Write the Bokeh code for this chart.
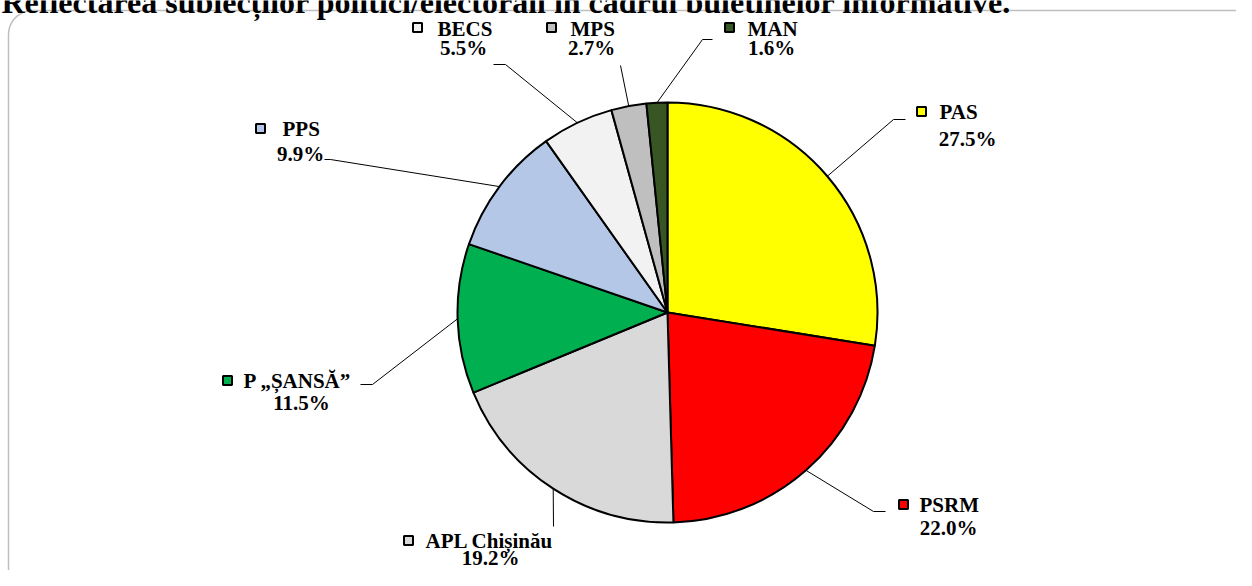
import numpy as np
from bokeh.plotting import figure
from bokeh.models import Range1d, ColumnDataSource
from bokeh.core.properties import value
from bokeh.embed import file_html
from bokeh.resources import INLINE

# ---- data ----
names = ["PAS", "PSRM", "APL Chișinău", "P „ȘANSĂ”", "PPS", "BECS", "MPS", "MAN"]
shares = [27.5, 22.0, 19.2, 11.5, 9.9, 5.5, 2.7, 1.6]
colors = ["#FFFF00", "#FF0000", "#D9D9D9", "#00B050", "#B4C7E7", "#F2F2F2", "#BFBFBF", "#375623"]
title = "Reflectarea subiecților politici/electorali în cadrul buletinelor informative."

# ---- layout (reference pixel coordinates, y down) ----
W, H = 1236, 570
REF_H = 586
def Y(y):
    return REF_H - y

CX, CY, R = 667, Y(312), 210
# square centre x, y, name left x, name y, pct centre x, pct y
lab = {
    "PAS":          (921, 111, 939, 111, 967, 138),
    "PSRM":         (903, 504, 919, 504, 948, 527),
    "APL Chișinău": (408, 540, 425, 540, 490, 557),
    "P „ȘANSĂ”":    (227, 380, 243, 380, 301, 402),
    "PPS":          (260, 128, 282, 128, 300, 153),
    "BECS":         (417, 27, 437, 28, 463, 47),
    "MPS":          (551, 27, 570, 28, 591, 47),
    "MAN":          (729, 27, 747, 28, 771, 47),
}
elbows = {
    "PAS": [(893, 119), (905, 119)],
    "PSRM": [(873, 511), (885, 511)],
    "APL Chișinău": [(553, 526)],
    "P „ȘANSĂ”": [(372, 384), (360, 384)],
    "PPS": [(330, 159), (324, 159)],
    "BECS": [(505, 64), (493, 64)],
    "MPS": [(620, 65)],
    "MAN": [(702, 39), (712, 39)],
}

total = sum(shares)
cum = np.concatenate([[0], np.cumsum(shares)])
start = np.pi / 2 - 2 * np.pi * cum[:-1] / total
end = np.pi / 2 - 2 * np.pi * cum[1:] / total
mid = (start + end) / 2

p = figure(width=W, height=H, output_backend="svg", toolbar_location=None,
           x_range=Range1d(0, W), y_range=Range1d(Y(H), Y(0)),
           min_border=0, outline_line_color=None)
p.axis.visible = False
p.grid.visible = False
p.background_fill_color = "white"

# rounded border
bx0, bx1, by0, by1, rr = 8, 1262, 10, 592, 24
pts = []
for (ccx, ccy, a0) in [(bx1 - rr, by0 + rr, -90), (bx1 - rr, by1 - rr, 0), (bx0 + rr, by1 - rr, 90), (bx0 + rr, by0 + rr, 180)]:
    for a in np.linspace(a0, a0 + 90, 12):
        pts.append((ccx + rr * np.cos(np.radians(a)), ccy + rr * np.sin(np.radians(a))))
pts.append(pts[0])
p.line([q[0] for q in pts], [Y(q[1]) for q in pts], line_color="#BFBFBF", line_width=1.5)

# title (its top is cut by the edge, as in the reference)
p.text(x=[1], y=[Y(1)], text=[title], text_font=value("Liberation Serif"),
       text_font_style="bold", text_font_size="32px", text_baseline="alphabetic",
       text_color="black")

# pie
src = ColumnDataSource(dict(start=start, end=end, color=colors))
p.wedge(x=CX, y=CY, radius=R, start_angle="start", end_angle="end", direction="clock",
        fill_color="color", line_color="black", line_width=2, source=src)

# leader lines
xs, ys = [], []
for n, m in zip(names, mid):
    ex, ey = CX + R * np.cos(m), CY + R * np.sin(m)
    lx = [ex] + [e[0] for e in elbows[n]]
    ly = [ey] + [Y(e[1]) for e in elbows[n]]
    xs.append(lx); ys.append(ly)
p.multi_line(xs, ys, line_color="black", line_width=1)

# labels
sqx = [lab[n][0] for n in names]
sqy = [Y(lab[n][1]) for n in names]
p.rect(x=sqx, y=sqy, width=9, height=9, fill_color=colors, line_color="black", line_width=2)
p.text(x=[lab[n][2] for n in names], y=[Y(lab[n][3]) for n in names], text=names,
       text_font=value("Liberation Serif"), text_font_style="bold", text_font_size="21px",
       text_baseline="middle", text_align="left", text_color="black")
p.text(x=[lab[n][4] for n in names], y=[Y(lab[n][5]) for n in names],
       text=[f"{v:.1f}%" for v in shares],
       text_font=value("Liberation Serif"), text_font_style="bold", text_font_size="21px",
       text_baseline="middle", text_align="center", text_color="black")

open("out.html", "w").write(file_html(p, INLINE))
